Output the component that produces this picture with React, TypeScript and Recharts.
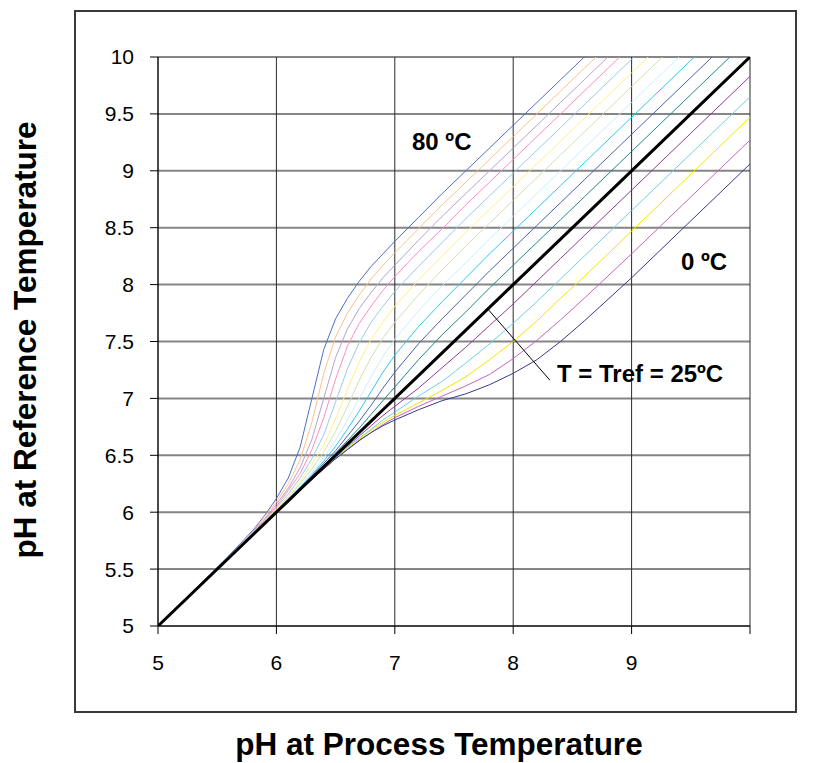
import { LineChart, Line, XAxis, YAxis, CartesianGrid, ReferenceLine } from 'recharts';

const FONT = '"Liberation Sans", Arial, Helvetica, sans-serif';

// pH at process temperature (x)
const PH_PROCESS = [5, 5.6, 5.8, 5.9, 6.0, 6.1, 6.2, 6.3, 6.4, 6.5, 6.6, 6.7, 6.8, 6.9, 7.0, 7.2, 7.4, 7.6, 7.8, 8.0, 8.2, 8.4, 8.6, 9.0, 9.5, 10];

// pH at reference temperature, one list per process temperature
const T80 = [5.0, 5.62, 5.84, 5.97, 6.12, 6.3, 6.57, 7.0, 7.43, 7.7, 7.88, 8.03, 8.16, 8.27, 8.38, 8.59, 8.8, 9.0, 9.2, 9.4, 9.6, 9.8, 10.0, 10.4, null, null];
const T75 = [5.0, 5.61, 5.83, 5.96, 6.09, 6.25, 6.46, 6.79, 7.22, 7.54, 7.75, 7.91, 8.05, 8.17, 8.28, 8.49, 8.7, 8.9, 9.1, 9.3, 9.5, 9.7, 9.9, 10.3, null, null];
const T70 = [5.0, 5.61, 5.83, 5.94, 6.07, 6.21, 6.39, 6.64, 7.0, 7.36, 7.61, 7.79, 7.93, 8.06, 8.17, 8.39, 8.6, 8.8, 9.0, 9.2, 9.4, 9.6, 9.8, 10.2, null, null];
const T65 = [5.0, 5.61, 5.82, 5.93, 6.05, 6.19, 6.34, 6.55, 6.83, 7.17, 7.46, 7.66, 7.81, 7.95, 8.07, 8.29, 8.49, 8.7, 8.9, 9.1, 9.3, 9.5, 9.7, 10.1, null, null];
const T60 = [5.0, 5.61, 5.82, 5.92, 6.04, 6.16, 6.3, 6.47, 6.68, 6.97, 7.26, 7.49, 7.67, 7.81, 7.94, 8.16, 8.37, 8.58, 8.78, 8.98, 9.18, 9.38, 9.58, 9.98, 10.48, null];
const T55 = [5.0, 5.6, 5.81, 5.92, 6.03, 6.14, 6.27, 6.42, 6.59, 6.82, 7.08, 7.32, 7.52, 7.67, 7.81, 8.04, 8.25, 8.46, 8.66, 8.86, 9.06, 9.26, 9.46, 9.86, 10.36, null];
const T50 = [5.0, 5.6, 5.81, 5.91, 6.02, 6.13, 6.25, 6.38, 6.53, 6.71, 6.93, 7.16, 7.36, 7.53, 7.67, 7.91, 8.13, 8.34, 8.54, 8.74, 8.94, 9.14, 9.34, 9.74, 10.24, null];
const T45 = [5.0, 5.6, 5.81, 5.91, 6.01, 6.12, 6.23, 6.35, 6.48, 6.63, 6.81, 7.0, 7.19, 7.37, 7.52, 7.77, 7.99, 8.19, 8.4, 8.6, 8.8, 9.0, 9.2, 9.6, 10.1, null];
const T40 = [5.0, 5.6, 5.8, 5.9, 6.01, 6.11, 6.22, 6.33, 6.45, 6.58, 6.73, 6.89, 7.06, 7.23, 7.38, 7.63, 7.85, 8.06, 8.27, 8.47, 8.67, 8.87, 9.07, 9.47, 9.97, 10.47];
const T35 = [5.0, 5.6, 5.8, 5.9, 6.0, 6.11, 6.21, 6.32, 6.43, 6.54, 6.67, 6.8, 6.94, 7.09, 7.23, 7.48, 7.7, 7.91, 8.12, 8.32, 8.52, 8.72, 8.92, 9.32, 9.82, 10.32];
const T30 = [5.0, 5.6, 5.8, 5.9, 6.0, 6.1, 6.21, 6.31, 6.41, 6.52, 6.63, 6.74, 6.86, 6.98, 7.1, 7.34, 7.56, 7.76, 7.97, 8.17, 8.37, 8.57, 8.77, 9.17, 9.67, 10.17];
const T25 = [5.0, 5.6, 5.8, 5.9, 6.0, 6.1, 6.2, 6.3, 6.4, 6.5, 6.6, 6.7, 6.8, 6.9, 7.0, 7.2, 7.4, 7.6, 7.8, 8.0, 8.2, 8.4, 8.6, 9.0, 9.5, 10.0];
const T20 = [5.0, 5.6, 5.8, 5.9, 6.0, 6.1, 6.2, 6.29, 6.39, 6.49, 6.58, 6.67, 6.76, 6.85, 6.93, 7.09, 7.27, 7.45, 7.64, 7.83, 8.03, 8.23, 8.43, 8.83, 9.33, 9.83];
const T15 = [5.0, 5.6, 5.8, 5.9, 6.0, 6.1, 6.19, 6.29, 6.39, 6.48, 6.57, 6.65, 6.73, 6.81, 6.88, 7.02, 7.15, 7.31, 7.48, 7.66, 7.85, 8.05, 8.25, 8.65, 9.15, 9.65];
const T10 = [5.0, 5.6, 5.8, 5.9, 6.0, 6.1, 6.19, 6.29, 6.38, 6.47, 6.56, 6.64, 6.72, 6.79, 6.85, 6.96, 7.07, 7.19, 7.34, 7.5, 7.68, 7.88, 8.07, 8.47, 8.97, 9.47];
const T5 = [5.0, 5.6, 5.8, 5.9, 6.0, 6.09, 6.19, 6.29, 6.38, 6.47, 6.55, 6.63, 6.7, 6.77, 6.83, 6.93, 7.02, 7.11, 7.21, 7.35, 7.51, 7.69, 7.88, 8.27, 8.77, 9.27];
const T0 = [5.0, 5.6, 5.8, 5.9, 6.0, 6.09, 6.19, 6.29, 6.38, 6.47, 6.55, 6.63, 6.7, 6.76, 6.81, 6.9, 6.98, 7.04, 7.12, 7.22, 7.34, 7.5, 7.68, 8.06, 8.56, 9.06];

const X_TICKS = [5, 6, 7, 8, 9, 10];
const Y_TICKS = [5, 5.5, 6, 6.5, 7, 7.5, 8, 8.5, 9, 9.5, 10];

// leader line for the T = Tref label
const LEADER_X = [7.79, 8.31];
const LEADER_Y = [7.78, 7.16];

// drawing order: hot curves, cold curves, then the reference line on top
const SERIES = [
  { key: 't80', values: T80, color: '#4f6fc4' },
  { key: 't75', values: T75, color: '#ffc08a' },
  { key: 't70', values: T70, color: '#b8a0d2' },
  { key: 't65', values: T65, color: '#ff8cc0' },
  { key: 't60', values: T60, color: '#9cc8ee' },
  { key: 't55', values: T55, color: '#fff08c' },
  { key: 't50', values: T50, color: '#cde3b0' },
  { key: 't45', values: T45, color: '#cdeefc' },
  { key: 't40', values: T40, color: '#2fc6f6' },
  { key: 't35', values: T35, color: '#4c5fb0' },
  { key: 't30', values: T30, color: '#1a8a8a' },
  { key: 't20', values: T20, color: '#8e3a96' },
  { key: 't15', values: T15, color: '#6fd0e0' },
  { key: 't10', values: T10, color: '#f5e400' },
  { key: 't5', values: T5, color: '#c865b8' },
  { key: 't0', values: T0, color: '#353a8e' },
  { key: 't25', values: T25, color: '#000000' },
];

const rows = PH_PROCESS.map((x, i) => {
  const row: Record<string, number | null> = { x };
  SERIES.forEach((s) => {
    row[s.key] = s.values[i];
  });
  return row;
});

const tickStyle = { fill: '#000', fontSize: 21, fontFamily: FONT };

export default function App() {
  return (
    <div style={{ position: 'relative', width: 805, height: 755, fontFamily: FONT, overflow: 'hidden' }}>
      <div
        style={{
          position: 'absolute',
          left: 66,
          top: 2,
          width: 723,
          height: 703,
          border: '2px solid #3a3a3a',
          boxSizing: 'border-box',
        }}
      />
      <div style={{ position: 'absolute', left: 0, top: 0 }}>
        <LineChart width={805} height={755} data={rows} margin={{ top: 49, right: 63, left: 0, bottom: 97 }}>
          <CartesianGrid horizontal vertical={false} stroke="#858585" strokeWidth={2} />
          <CartesianGrid horizontal={false} vertical stroke="#2a2a2a" strokeWidth={1} />
          <XAxis
            type="number"
            dataKey="x"
            domain={[5, 10]}
            ticks={X_TICKS}
            interval={0}
            allowDataOverflow
            height={40}
            tickSize={8}
            tickMargin={21}
            fontSize={21}
            fontFamily={FONT}
            tick={tickStyle}
            tickFormatter={(v: number) => (v === 10 ? '' : String(v))}
            axisLine={{ stroke: '#000' }}
            tickLine={{ stroke: '#000' }}
          />
          <YAxis
            type="number"
            domain={[5, 10]}
            ticks={Y_TICKS}
            interval={0}
            allowDataOverflow
            width={150}
            tickSize={8}
            tickMargin={16}
            fontSize={21}
            fontFamily={FONT}
            tick={tickStyle}
            axisLine={{ stroke: '#000' }}
            tickLine={{ stroke: '#000' }}
          />
          {SERIES.map((s) => (
            <Line
              key={s.key}
              type="linear"
              dataKey={s.key}
              stroke={s.color}
              strokeWidth={s.key === 't25' ? 3 : 1}
              dot={false}
              activeDot={false}
              isAnimationActive={false}
            />
          ))}
          <ReferenceLine
            segment={[
              { x: LEADER_X[0], y: LEADER_Y[0] },
              { x: LEADER_X[1], y: LEADER_Y[1] },
            ]}
            stroke="#000"
            strokeWidth={1}
            ifOverflow="visible"
          />
        </LineChart>
      </div>
      <svg
        width={805}
        height={755}
        style={{ position: 'absolute', left: 0, top: 0, pointerEvents: 'none' }}
        fontFamily={FONT}
        fontWeight="bold"
      >
        <text x={404} y={142} fontSize={24} fill="#000">80 ºC</text>
        <text x={673} y={262} fontSize={24} fill="#000">0 ºC</text>
        <text x={549} y={374} fontSize={24} fill="#000">T = Tref = 25ºC</text>
        <text x={431} y={747} fontSize={31.5} fill="#000" textAnchor="middle">pH at Process Temperature</text>
        <text x={28} y={332} fontSize={31.5} fill="#000" textAnchor="middle" transform="rotate(-90 28 332)">
          pH at Reference Temperature
        </text>
      </svg>
    </div>
  );
}
